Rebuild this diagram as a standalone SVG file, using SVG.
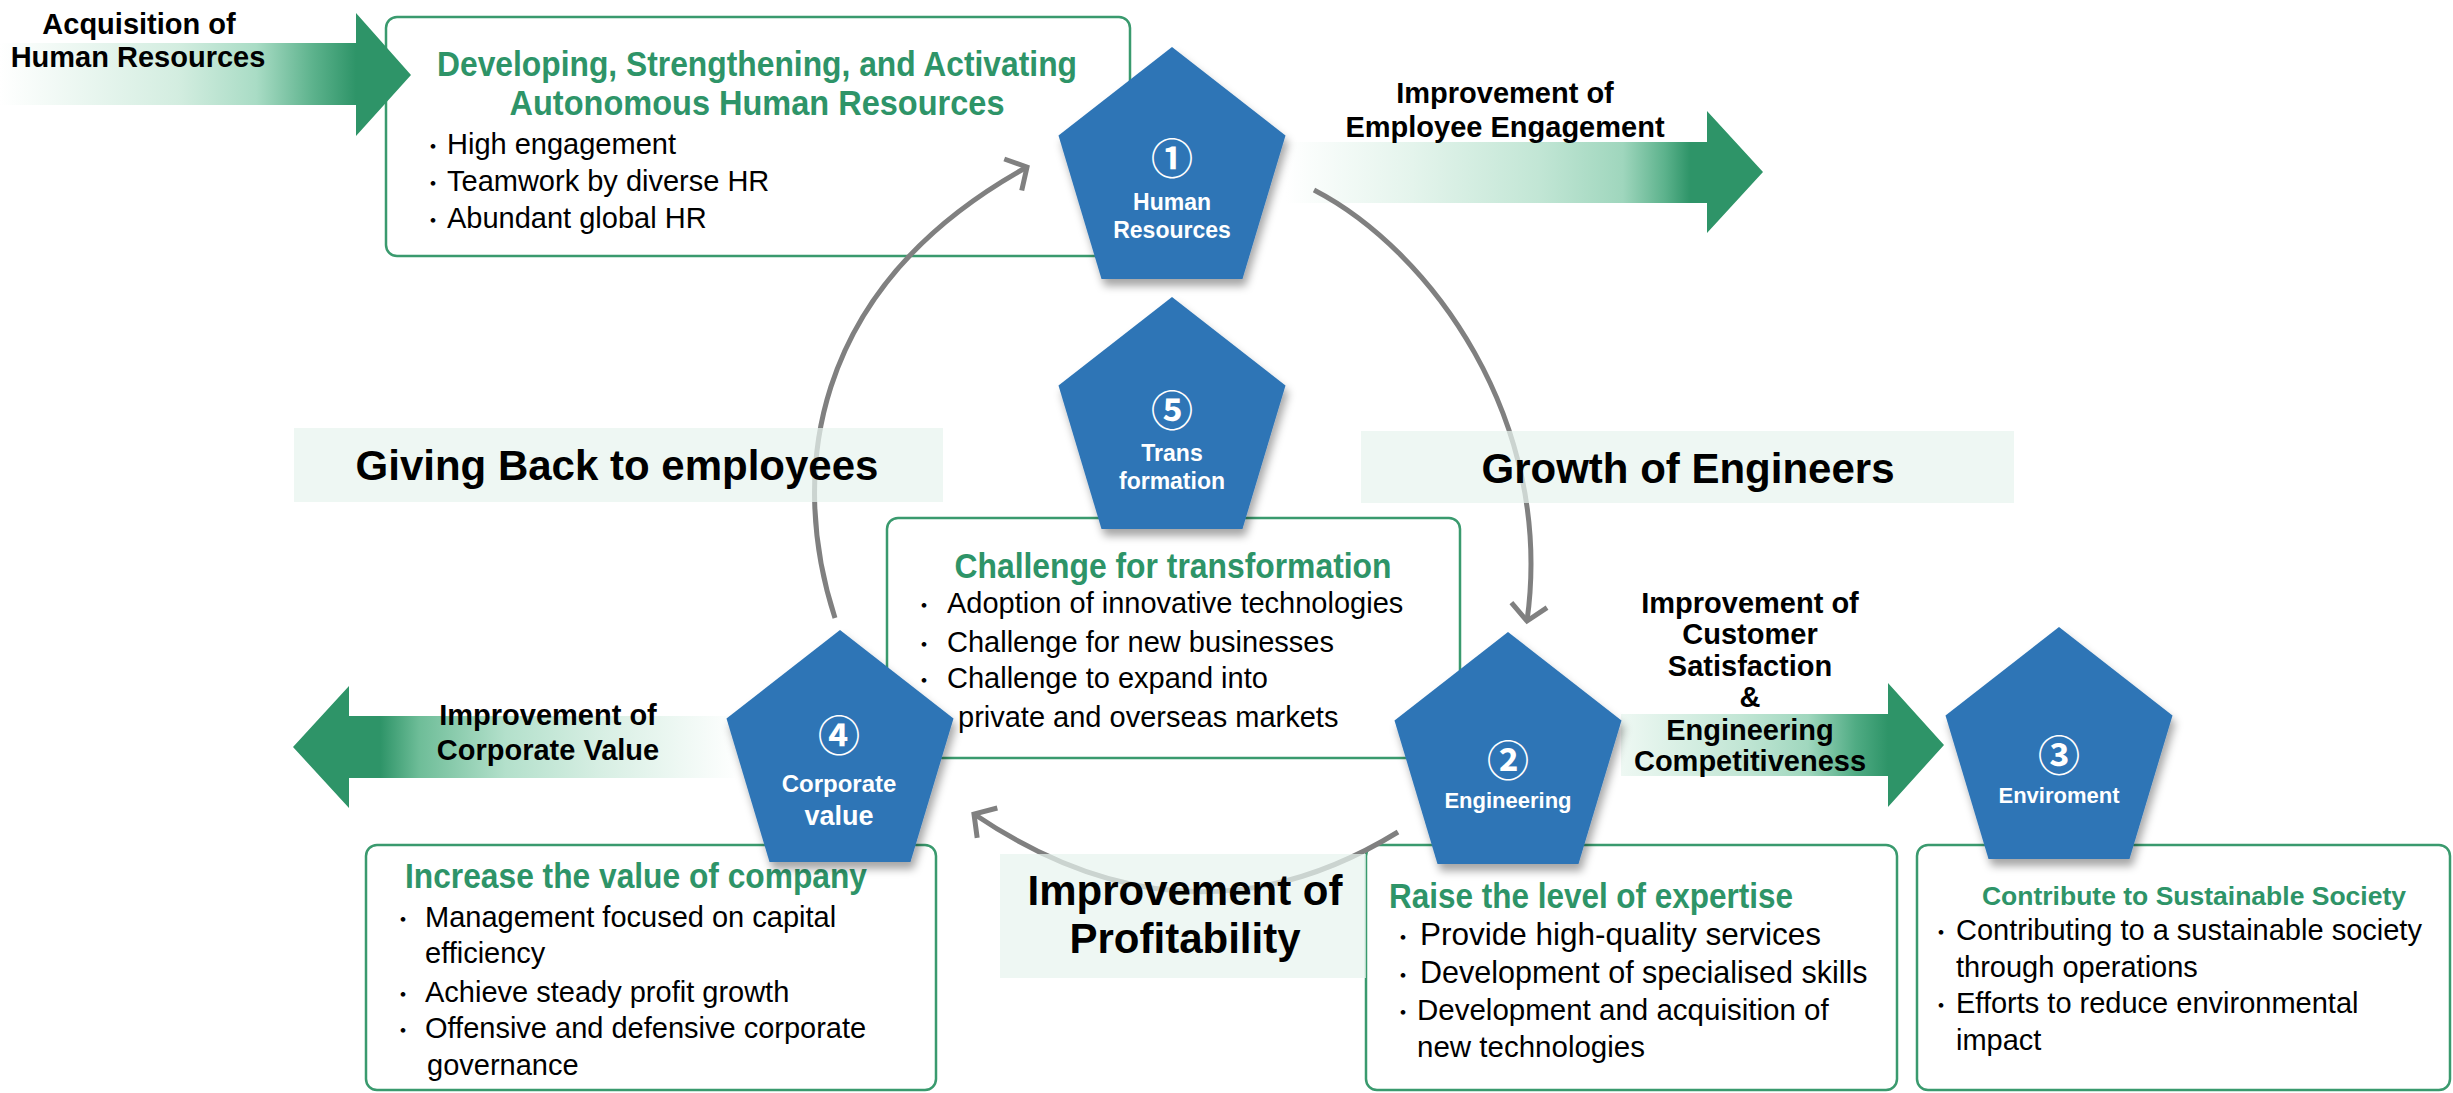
<svg xmlns="http://www.w3.org/2000/svg" width="2453" height="1093" viewBox="0 0 2453 1093">
<style>
.t{font-family:'Liberation Sans',Arial,sans-serif}
.pent{fill:#2E75B6;filter:url(#sh)}
.box{fill:#fff;stroke:#3A9A6E;stroke-width:2.5}
.lbox{fill:#E8F4EE;fill-opacity:0.72}
.ttl{font-weight:bold;fill:#2E9468;font-size:35px}
.body{font-size:29px;fill:#000}
.bl{font-family:'Noto Sans CJK JP',sans-serif;font-size:22px}
.lab{font-weight:bold;font-size:29px;fill:#000;text-anchor:middle}
.big{font-weight:bold;font-size:42px;fill:#000;text-anchor:middle}
.pl{font-weight:bold;fill:#fff;font-size:23px;text-anchor:middle}
.num{font-family:'Noto Sans CJK JP','DejaVu Sans',sans-serif;font-weight:bold;fill:#fff;font-size:42px;text-anchor:middle}
.arc{fill:none;stroke:#808080;stroke-width:5;marker-end:url(#chev)}
</style>
<defs>
<filter id="sh" x="-20%" y="-20%" width="140%" height="140%">
<feDropShadow dx="3" dy="7" stdDeviation="4" flood-color="#000" flood-opacity="0.35"/>
</filter>
<marker id="chev" markerUnits="userSpaceOnUse" viewBox="-30 -30 40 60" markerWidth="40" markerHeight="60" refX="0" refY="0" orient="auto">
<path d="M-16,-18 L0,0 L-16,18" fill="none" stroke="#808080" stroke-width="5" stroke-linejoin="miter"/>
</marker>
<linearGradient id="gA" gradientUnits="userSpaceOnUse" x1="0" y1="0" x2="356" y2="0">
<stop offset="0" stop-color="#ffffff"/><stop offset="0.5" stop-color="#d3ede0"/><stop offset="0.72" stop-color="#a9dcc5"/><stop offset="0.88" stop-color="#5cb28c"/><stop offset="1" stop-color="#2E9468"/>
</linearGradient>
<linearGradient id="gE" gradientUnits="userSpaceOnUse" x1="1286" y1="0" x2="1707" y2="0">
<stop offset="0" stop-color="#ffffff"/><stop offset="0.3" stop-color="#e4f4ec"/><stop offset="0.6" stop-color="#c2e6d5"/><stop offset="0.8" stop-color="#9fd6bd"/><stop offset="0.9" stop-color="#5cb28c"/><stop offset="0.96" stop-color="#2E9468"/>
</linearGradient>
<linearGradient id="gC" gradientUnits="userSpaceOnUse" x1="1621" y1="0" x2="1888" y2="0">
<stop offset="0" stop-color="#eef8f3"/><stop offset="0.45" stop-color="#c2e6d5"/><stop offset="0.7" stop-color="#a0d7be"/><stop offset="0.88" stop-color="#4fab83"/><stop offset="1" stop-color="#2E9468"/>
</linearGradient>
<linearGradient id="gV" gradientUnits="userSpaceOnUse" x1="740" y1="0" x2="349" y2="0">
<stop offset="0" stop-color="#ffffff"/><stop offset="0.35" stop-color="#d8efe4"/><stop offset="0.6" stop-color="#b3e0cb"/><stop offset="0.82" stop-color="#6ebd98"/><stop offset="0.92" stop-color="#2E9468"/>
</linearGradient>
</defs>
<rect width="2453" height="1093" fill="#fff"/>

<!-- bordered boxes -->
<g id="box-hr" class="t">
<rect class="box" x="386" y="17" width="744" height="239" rx="11"/>
<text class="ttl" x="757" y="76" text-anchor="middle" textLength="640" lengthAdjust="spacingAndGlyphs">Developing, Strengthening, and Activating</text>
<text class="ttl" x="757" y="115" text-anchor="middle" textLength="495" lengthAdjust="spacingAndGlyphs">Autonomous Human Resources</text>
<text class="body" x="422" y="154"><tspan class="bl">・</tspan><tspan x="447">High engagement</tspan></text>
<text class="body" x="422" y="191"><tspan class="bl">・</tspan><tspan x="447">Teamwork by diverse HR</tspan></text>
<text class="body" x="422" y="228"><tspan class="bl">・</tspan><tspan x="447">Abundant global HR</tspan></text>
</g>
<g id="box-transformation" class="t">
<rect class="box" x="887" y="518" width="573" height="240" rx="11"/>
<text class="ttl" x="1173" y="578" text-anchor="middle" textLength="437" lengthAdjust="spacingAndGlyphs">Challenge for transformation</text>
<text class="body" x="913" y="613"><tspan class="bl">・</tspan><tspan x="947">Adoption of innovative technologies</tspan></text>
<text class="body" x="913" y="652"><tspan class="bl">・</tspan><tspan x="947">Challenge for new businesses</tspan></text>
<text class="body" x="913" y="688"><tspan class="bl">・</tspan><tspan x="947">Challenge to expand into</tspan></text>
<text class="body" x="958" y="727">private and overseas markets</text>
</g>
<g id="box-value" class="t">
<rect class="box" x="366" y="845" width="570" height="245" rx="11"/>
<text class="ttl" x="636" y="888" text-anchor="middle" textLength="462" lengthAdjust="spacingAndGlyphs">Increase the value of company</text>
<text class="body" x="392" y="927"><tspan class="bl">・</tspan><tspan x="425">Management focused on capital</tspan></text>
<text class="body" x="425" y="963">efficiency</text>
<text class="body" x="392" y="1002"><tspan class="bl">・</tspan><tspan x="425">Achieve steady profit growth</tspan></text>
<text class="body" x="392" y="1038"><tspan class="bl">・</tspan><tspan x="425">Offensive and defensive corporate</tspan></text>
<text class="body" x="427" y="1075">governance</text>
</g>
<g id="box-expertise" class="t">
<rect class="box" x="1366" y="845" width="531" height="245" rx="11"/>
<text class="ttl" x="1389" y="908" textLength="404" lengthAdjust="spacingAndGlyphs">Raise the level of expertise</text>
<text class="body" x="1392" y="945" style="font-size:31.5px"><tspan class="bl">・</tspan><tspan x="1420">Provide high-quality services</tspan></text>
<text class="body" x="1392" y="983" style="font-size:30.5px"><tspan class="bl">・</tspan><tspan x="1420">Development of specialised skills</tspan></text>
<text class="body" x="1392" y="1020" style="font-size:29.5px"><tspan class="bl">・</tspan><tspan x="1417">Development and acquisition of</tspan></text>
<text class="body" x="1417" y="1057" style="font-size:29.5px">new technologies</text>
</g>
<g id="box-society" class="t">
<rect class="box" x="1917" y="845" width="533" height="245" rx="11"/>
<text class="ttl" x="2194" y="905" text-anchor="middle" style="font-size:26.5px">Contribute to Sustainable Society</text>
<text class="body" x="1930" y="940"><tspan class="bl">・</tspan><tspan x="1956">Contributing to a sustainable society</tspan></text>
<text class="body" x="1956" y="977">through operations</text>
<text class="body" x="1930" y="1013"><tspan class="bl">・</tspan><tspan x="1956">Efforts to reduce environmental</tspan></text>
<text class="body" x="1956" y="1050">impact</text>
</g>

<!-- green flow arrows -->
<g id="flows">
<polygon id="arrow-acquisition" fill="url(#gA)" points="0,43 356,43 356,13 411,75 356,136 356,105 0,105"/>
<polygon id="arrow-engagement" fill="url(#gE)" points="1286,142 1707,142 1707,111 1763,172 1707,233 1707,203 1286,203"/>
<polygon id="arrow-customer" fill="url(#gC)" points="1621,714 1888,714 1888,683 1944,745 1888,807 1888,776 1621,776"/>
<polygon id="arrow-corporate" fill="url(#gV)" points="740,716 349,716 349,686 293,747 349,808 349,778 740,778"/>
</g>

<!-- cycle connectors -->
<g id="connectors">
<path class="arc" d="M835,618 C790,480 805,290 1027,167"/>
<path class="arc" d="M1314,190 C1430,250 1555,420 1527,621"/>
<path class="arc" d="M1398,832 Q1190,960 974,814"/>
</g>

<!-- light label boxes -->
<g id="label-giving" class="t">
<rect class="lbox" x="294" y="428" width="649" height="74"/>
<text class="big" x="617" y="480">Giving Back to employees</text>
</g>
<g id="label-growth" class="t">
<rect class="lbox" x="1361" y="431" width="653" height="72"/>
<text class="big" x="1688" y="483">Growth of Engineers</text>
</g>
<g id="label-profit" class="t">
<rect class="lbox" x="1000" y="854" width="366" height="124"/>
<text class="big" x="1185" y="905">Improvement of</text>
<text class="big" x="1185" y="953">Profitability</text>
</g>

<!-- pentagon nodes -->
<g id="node-1" class="t">
<polygon class="pent" points="1172,47 1285.5,135.5 1242.5,279 1101.5,279 1058.5,135.5"/>
<text class="num" x="1172" y="174">①</text>
<text class="pl" x="1172" y="210">Human</text>
<text class="pl" x="1172" y="238">Resources</text>
</g>
<g id="node-5" class="t">
<polygon class="pent" points="1172,297 1285.5,385.5 1242.5,529 1101.5,529 1058.5,385.5"/>
<text class="num" x="1172" y="426">⑤</text>
<text class="pl" x="1172" y="461">Trans</text>
<text class="pl" x="1172" y="489">formation</text>
</g>
<g id="node-2" class="t">
<polygon class="pent" points="1508,632 1621.5,720.5 1578.5,864 1437.5,864 1394.5,720.5"/>
<text class="num" x="1508" y="776">②</text>
<text class="pl" x="1508" y="808" style="font-size:22px">Engineering</text>
</g>
<g id="node-3" class="t">
<polygon class="pent" points="2059,627 2172.5,715.5 2129.5,859 1988.5,859 1945.5,715.5"/>
<text class="num" x="2059" y="771">③</text>
<text class="pl" x="2059" y="803" style="font-size:22px">Enviroment</text>
</g>
<g id="node-4" class="t">
<polygon class="pent" points="840,630 953.5,718.5 910.5,862 769.5,862 726.5,718.5"/>
<text class="num" x="839" y="751">④</text>
<text class="pl" x="839" y="792" style="font-size:24px">Corporate</text>
<text class="pl" x="839" y="825" style="font-size:27px">value</text>
</g>

<!-- flow labels -->
<g id="flow-labels" class="t">
<text class="lab" x="139" y="34">Acquisition of</text>
<text class="lab" x="138" y="67">Human Resources</text>
<text class="lab" x="1505" y="103">Improvement of</text>
<text class="lab" x="1505" y="137">Employee Engagement</text>
<text class="lab" x="1750" y="613">Improvement of</text>
<text class="lab" x="1750" y="644">Customer</text>
<text class="lab" x="1750" y="676">Satisfaction</text>
<text class="lab" x="1750" y="707">&amp;</text>
<text class="lab" x="1750" y="740">Engineering</text>
<text class="lab" x="1750" y="771">Competitiveness</text>
<text class="lab" x="548" y="725">Improvement of</text>
<text class="lab" x="548" y="760">Corporate Value</text>
</g>
</svg>
